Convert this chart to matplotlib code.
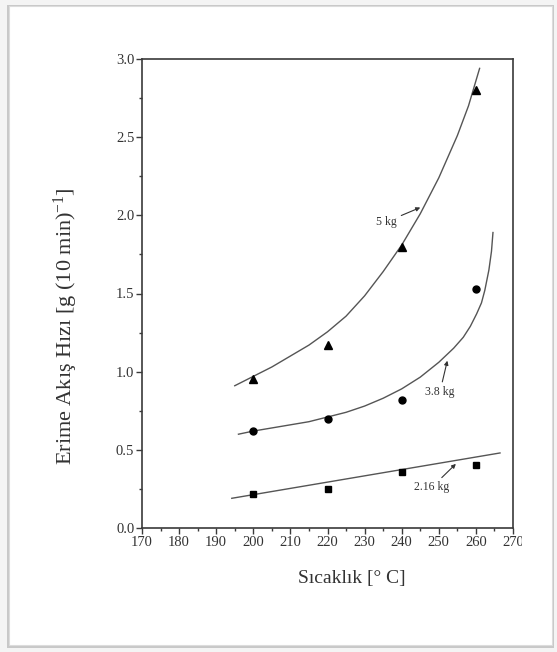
import numpy as np
import matplotlib
matplotlib.use("Agg")
import matplotlib.pyplot as plt
from matplotlib.patches import Rectangle
from matplotlib.ticker import MultipleLocator, FormatStrFormatter

plt.rcParams['font.family'] = ['Liberation Serif', 'DejaVu Serif']
plt.rcParams['mathtext.default'] = 'regular'

# ölçülen noktalar
sicaklik = [200, 220, 240, 260]
mfr_5kg = [0.95, 1.17, 1.80, 2.80]
mfr_38kg = [0.62, 0.70, 0.82, 1.53]
mfr_216kg = [0.22, 0.25, 0.36, 0.40]

# uydurma eğrileri
egri_5kg_x = [195, 200, 205, 210, 215, 220, 225, 230, 235, 240, 245, 250, 255, 258, 261]
egri_5kg_y = [0.91, 0.97, 1.03, 1.10, 1.17, 1.255, 1.355, 1.485, 1.64, 1.81, 2.01, 2.24, 2.51, 2.70, 2.94]
egri_38kg_x = [196, 200, 205, 210, 215, 220, 225, 230, 235, 240, 245, 250, 254, 256.6, 258.5, 260.2, 261.5, 262.4, 263.5, 264.2, 264.6]
egri_38kg_y = [0.60, 0.62, 0.64, 0.66, 0.68, 0.71, 0.74, 0.78, 0.83, 0.89, 0.965, 1.06, 1.15, 1.22, 1.29, 1.37, 1.44, 1.52, 1.65, 1.77, 1.89]
egri_216kg_x = [194.2, 266.5]
egri_216kg_y = [0.19, 0.48]

W, H = 557, 652
fig = plt.figure(figsize=(W / 100, H / 100), dpi=100)
fig.patch.set_facecolor('white')

# ekran görüntüsü çerçevesi
fig.patches.append(Rectangle((0, 0), 1, 1, transform=fig.transFigure,
                             facecolor='#f4f4f4', edgecolor='none', zorder=-10))
fig.patches.append(Rectangle((7 / W, 1 - 648 / H), 547 / W, 643 / H, transform=fig.transFigure,
                             facecolor='#c8c8c8', edgecolor='none', zorder=-9))
fig.patches.append(Rectangle((9 / W, 1 - 645 / H), 543 / W, 639 / H, transform=fig.transFigure,
                             facecolor='white', edgecolor='#dcdcdc', lw=0.8, zorder=-8))

ax = fig.add_axes([142 / W, 1 - 528 / H, (513 - 142) / W, (528 - 59) / H])
ax.set_facecolor('white')

lc = '#3a3a3a'
ax.plot(egri_5kg_x, egri_5kg_y, color='#555555', lw=1.0)
ax.plot(egri_38kg_x, egri_38kg_y, color='#555555', lw=1.0)
ax.plot(egri_216kg_x, egri_216kg_y, color='#555555', lw=1.0)

ax.plot(sicaklik, mfr_5kg, '^', color='black', ms=6, ls='none')
ax.plot(sicaklik, mfr_38kg, 'o', color='black', ms=5, ls='none')
ax.plot(sicaklik, mfr_216kg, 's', color='black', ms=4.5, ls='none')

ok = dict(arrowstyle='-|>', color='#333333', lw=0.8, mutation_scale=6, shrinkA=1, shrinkB=0)
ax.annotate('5 kg', xy=(245, 2.05), xytext=(236, 1.96), fontsize=8.5, color='#333333',
            ha='center', va='center', arrowprops=ok)
ax.annotate('3.8 kg', xy=(252.3, 1.07), xytext=(250.3, 0.87), fontsize=8.5, color='#333333',
            ha='center', va='center', arrowprops=ok)
ax.annotate('2.16 kg', xy=(254.6, 0.41), xytext=(248.1, 0.26), fontsize=8.5, color='#333333',
            ha='center', va='center', arrowprops=ok)

ax.set_xlim(170, 270)
ax.set_ylim(0, 3.0)
ax.xaxis.set_major_locator(MultipleLocator(10))
ax.xaxis.set_minor_locator(MultipleLocator(5))
ax.yaxis.set_major_locator(MultipleLocator(0.5))
ax.yaxis.set_minor_locator(MultipleLocator(0.25))
ax.yaxis.set_major_formatter(FormatStrFormatter('%.1f'))
ax.tick_params(which='major', direction='out', length=4, width=1.0, color=lc,
               labelsize=10.5, labelcolor='#333333', pad=1.5)
ax.tick_params(which='minor', direction='out', length=2.5, width=1.0, color=lc)
for s in ax.spines.values():
    s.set_color(lc)
    s.set_linewidth(1.2)

# resmin sağ kenarında kesilmiş "270" etiketi
fig.patches.append(Rectangle((522 / W, 1 - 548 / H), 28 / W, 16 / H, transform=fig.transFigure,
                             facecolor='white', edgecolor='none', zorder=5))

fig.text(352 / W, 1 - 578 / H, 'Sıcaklık [° C]', fontsize=14, color='#333333',
         ha='center', va='center')
fig.text(66 / W, 1 - 326 / H, 'Erime Akış Hızı [g (10 min)$^{-1}$]', fontsize=16,
         color='#333333', ha='center', va='center', rotation=90)

fig.savefig('out.png', dpi=100)
